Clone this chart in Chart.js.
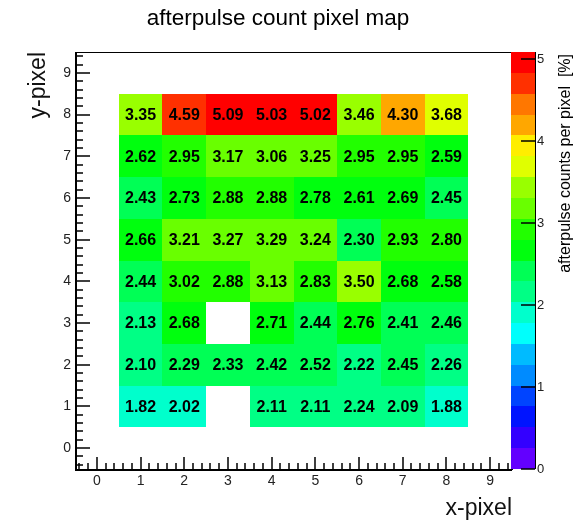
<!DOCTYPE html>
<html>
<head>
<meta charset="utf-8">
<title>afterpulse count pixel map</title>
<script src="https://cdn.jsdelivr.net/npm/chart.js@4.4.0/dist/chart.umd.min.js"></script>
<style>
  html, body { margin: 0; padding: 0; background: #fff; }
  #wrap { width: 583px; height: 524px; }
</style>
</head>
<body>
<div id="wrap"><canvas id="pixelMap" width="583" height="524"></canvas></div>
<script>
// pixel columns (x) and rows (y) that carry a value
const xPixels = [1, 2, 3, 4, 5, 6, 7, 8];
const yPixels = [8, 7, 6, 5, 4, 3, 2, 1];

// afterpulse counts per pixel [%], one array per row, top row first (null = empty bin)
const row8 = [3.35, 4.59, 5.09, 5.03, 5.02, 3.46, 4.30, 3.68];
const row7 = [2.62, 2.95, 3.17, 3.06, 3.25, 2.95, 2.95, 2.59];
const row6 = [2.43, 2.73, 2.88, 2.88, 2.78, 2.61, 2.69, 2.45];
const row5 = [2.66, 3.21, 3.27, 3.29, 3.24, 2.30, 2.93, 2.80];
const row4 = [2.44, 3.02, 2.88, 3.13, 2.83, 3.50, 2.68, 2.58];
const row3 = [2.13, 2.68, null, 2.71, 2.44, 2.76, 2.41, 2.46];
const row2 = [2.10, 2.29, 2.33, 2.42, 2.52, 2.22, 2.45, 2.26];
const row1 = [1.82, 2.02, null, 2.11, 2.11, 2.24, 2.09, 1.88];
const rows = [row8, row7, row6, row5, row4, row3, row2, row1];

// axis tick labels
const xTicks = [0, 1, 2, 3, 4, 5, 6, 7, 8, 9];
const yTicks = [0, 1, 2, 3, 4, 5, 6, 7, 8, 9];
const zTicks = [0, 1, 2, 3, 4, 5];

const FONT = '"Liberation Sans", Arial, Helvetica, sans-serif';
const nLevels = 20;
const zMax = Math.max(...rows.flat().filter(v => v !== null));

// ROOT "pretty" palette (50 hues violet -> red), picked for 20 contour levels
function levelColor(k) {
  const idx = Math.floor((k + 0.99) * 50 / nLevels);
  const hue = Math.max(0, 280 - (idx + 1) * 5.6);
  return 'hsl(' + hue + ', 100%, 50%)';
}
function colorFor(v) {
  let k = Math.floor(0.01 + v / zMax * nLevels);
  if (k >= nLevels) k = nLevels - 1;
  return levelColor(k);
}

const points = [];
rows.forEach((row, j) => {
  row.forEach((v, i) => {
    if (v !== null) points.push({ x: xPixels[i], y: yPixels[j], v: v });
  });
});

const pixelMapPlugin = {
  id: 'pixelMap',
  beforeDatasetsDraw(chart) {
    const { ctx, scales: { x, y } } = chart;
    const pts = chart.data.datasets[0].data;
    ctx.save();
    pts.forEach(p => {
      const x0 = Math.round(x.getPixelForValue(p.x - 0.5));
      const x1 = Math.round(x.getPixelForValue(p.x + 0.5));
      const y0 = Math.round(y.getPixelForValue(p.y + 0.5));
      const y1 = Math.round(y.getPixelForValue(p.y - 0.5));
      ctx.fillStyle = colorFor(p.v);
      ctx.fillRect(x0, y0, x1 - x0, y1 - y0);
    });
    ctx.fillStyle = '#000';
    ctx.font = 'bold 16px ' + FONT;
    ctx.textAlign = 'center';
    ctx.textBaseline = 'middle';
    pts.forEach(p => {
      ctx.fillText(p.v.toFixed(2), x.getPixelForValue(p.x), y.getPixelForValue(p.y) + 1);
    });
    ctx.restore();
  },
  afterDraw(chart) {
    const { ctx, chartArea: a, scales: { x, y, z } } = chart;
    ctx.save();

    // frame: thin top/right, thick axis lines
    ctx.strokeStyle = '#000';
    ctx.lineWidth = 1;
    ctx.strokeRect(Math.round(a.left) + 0.5, Math.round(a.top) + 0.5, Math.round(a.right - a.left), Math.round(a.bottom - a.top));

    // palette
    const pl = Math.round(z.left) - 1, pr = pl + 24;
    for (let k = 0; k < nLevels; k++) {
      const yb = Math.round(z.getPixelForValue(k * zMax / nLevels));
      const yt = Math.round(z.getPixelForValue((k + 1) * zMax / nLevels));
      ctx.fillStyle = levelColor(k);
      ctx.fillRect(pl, yt, pr - pl, yb - yt);
    }
    ctx.lineWidth = 1;
    ctx.beginPath();
    ctx.moveTo(pr + 0.5, Math.round(a.top));
    ctx.lineTo(pr + 0.5, Math.round(a.bottom));
    ctx.stroke();
    ctx.lineWidth = 1.5;
    ctx.beginPath();
    zTicks.forEach(t => {
      const py = Math.round(z.getPixelForValue(t));
      ctx.moveTo(pr, py);
      ctx.lineTo(pr - 14, py);
    });
    ctx.stroke();

    ctx.lineWidth = 2;
    ctx.beginPath();
    ctx.moveTo(Math.round(a.left) + 1, Math.round(a.top));
    ctx.lineTo(Math.round(a.left) + 1, Math.round(a.bottom) + 1);
    ctx.lineTo(Math.round(a.right), Math.round(a.bottom) + 1);
    ctx.stroke();

    // ticks inside the frame: major on integers, minor every 0.2
    ctx.lineWidth = 1.5;
    ctx.beginPath();
    for (let i = -2; i <= 47; i++) {
      const major = i % 5 === 0;
      const px = Math.round(x.getPixelForValue(i / 5));
      ctx.moveTo(px, a.bottom);
      ctx.lineTo(px, a.bottom - (major ? 12 : 6));
      const py = Math.round(y.getPixelForValue(i / 5));
      ctx.moveTo(a.left, py);
      ctx.lineTo(a.left + (major ? 15 : 8), py);
    }
    ctx.stroke();

    // main title
    ctx.fillStyle = '#000';
    ctx.font = '22.5px ' + FONT;
    ctx.textAlign = 'center';
    ctx.textBaseline = 'middle';
    ctx.fillText('afterpulse count pixel map', 278, 19);

    // palette title (reads bottom to top)
    ctx.translate(566, a.top + 2);
    ctx.rotate(-Math.PI / 2);
    ctx.font = '16px ' + FONT;
    ctx.textAlign = 'right';
    ctx.fillText('afterpulse counts per pixel  [%]', 0, 0);
    ctx.restore();
  }
};

new Chart(document.getElementById('pixelMap'), {
  type: 'scatter',
  data: {
    datasets: [{
      label: 'afterpulse counts per pixel [%]',
      data: points,
      pointRadius: 0,
      pointHoverRadius: 0
    }]
  },
  options: {
    responsive: false,
    animation: false,
    events: [],
    layout: { padding: { top: 52, left: 0, right: 0, bottom: 0 } },
    plugins: {
      legend: { display: false },
      title: { display: false },
      tooltip: { enabled: false }
    },
    scales: {
      x: {
        type: 'linear',
        min: -0.5,
        max: 9.5,
        afterBuildTicks: s => { s.ticks = xTicks.map(v => ({ value: v })); },
        afterFit: s => { s.height = 55; },
        grid: { display: false, drawTicks: false },
        border: { display: false },
        ticks: { color: '#222', font: { family: FONT, size: 14 }, padding: 4, maxRotation: 0, autoSkip: false },
        title: { display: true, text: 'x-pixel', align: 'end', color: '#111', font: { family: FONT, size: 23 }, padding: { top: 0, bottom: 2 } }
      },
      y: {
        type: 'linear',
        min: -0.5,
        max: 9.5,
        afterBuildTicks: s => { s.ticks = yTicks.map(v => ({ value: v })); },
        afterFit: s => { s.width = 75; },
        grid: { display: false, drawTicks: false },
        border: { display: false },
        ticks: { color: '#222', font: { family: FONT, size: 14 }, padding: 4, autoSkip: false },
        title: { display: true, text: 'y-pixel', align: 'end', color: '#111', font: { family: FONT, size: 23 }, padding: { top: 25, bottom: 0 } }
      },
      z: {
        type: 'linear',
        position: 'right',
        display: true,
        min: 0,
        max: zMax,
        afterBuildTicks: s => { s.ticks = zTicks.map(v => ({ value: v })); },
        afterFit: s => { s.width = 71; },
        grid: { display: false, drawTicks: false },
        border: { display: false },
        ticks: { color: '#222', font: { family: FONT, size: 13 }, padding: 25, autoSkip: false }
      }
    }
  },
  plugins: [pixelMapPlugin]
});
</script>
</body>
</html>
